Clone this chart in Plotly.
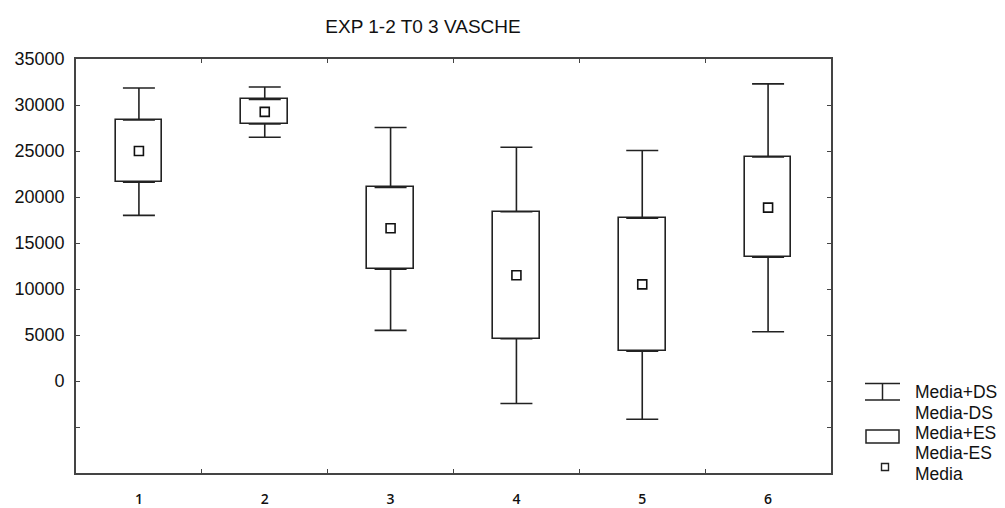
import plotly.graph_objects as go

# ---- data ----
categories = ["1", "2", "3", "4", "5", "6"]
mean = [25000, 29250, 16600, 11500, 10500, 18850]
se_low = [21600, 27950, 12150, 4600, 3250, 13450]     # Media-ES
se_high = [28380, 30600, 21050, 18400, 17700, 24350]  # Media+ES
sd_low = [18000, 26500, 5500, -2450, -4150, 5350]     # Media-DS
sd_high = [31850, 31950, 27550, 25400, 25050, 32300]  # Media+DS

title_text = "EXP 1-2 T0 3 VASCHE"
y_tickvals = [-10000, -5000, 0, 5000, 10000, 15000, 20000, 25000, 30000, 35000]
y_ticktext = ["", "", "0", "5000", "10000", "15000", "20000", "25000", "30000", "35000"]
legend_labels = ["Media+DS", "Media-DS", "Media+ES", "Media-ES", "Media"]

# ---- layout geometry (pixels) ----
W, H = 1005, 508
L, R, T, B = 76, 831, 59, 473
def px(x):
    return (x - L) / (R - L)
def py(y):
    return (B - y) / (B - T)

ink = "#111111"
line_col = "#222222"
axis_col = "#444444"
font = "Liberation Sans, Arial, sans-serif"

fig = go.Figure()

# upper whiskers (Media+ES -> Media+DS)
fig.add_trace(go.Scatter(
    x=categories, y=se_high, mode="markers",
    marker=dict(size=1, opacity=0),
    error_y=dict(type="data", symmetric=False,
                 array=[h - s for h, s in zip(sd_high, se_high)],
                 arrayminus=[0] * len(categories),
                 color=line_col, thickness=1.6, width=16),
    showlegend=False, hoverinfo="skip"))
# lower whiskers (Media-ES -> Media-DS)
fig.add_trace(go.Scatter(
    x=categories, y=se_low, mode="markers",
    marker=dict(size=1, opacity=0),
    error_y=dict(type="data", symmetric=False,
                 array=[0] * len(categories),
                 arrayminus=[s - l for s, l in zip(se_low, sd_low)],
                 color=line_col, thickness=1.6, width=16),
    showlegend=False, hoverinfo="skip"))

# boxes (Media +/- ES)
fig.add_trace(go.Bar(
    x=categories, base=se_low,
    y=[h - l for h, l in zip(se_high, se_low)],
    width=0.37,
    marker=dict(color="white", line=dict(color=line_col, width=1.6)),
    showlegend=False, hoverinfo="skip"))

# mean markers
fig.add_trace(go.Scatter(
    x=categories, y=mean, mode="markers",
    marker=dict(symbol="square-open", size=9, color=ink, line=dict(width=1.6)),
    showlegend=False))

shapes = []
# legend: I-beam
shapes.append(dict(type="line", xref="paper", yref="paper",
                   x0=px(865), x1=px(900), y0=py(383.5), y1=py(383.5),
                   line=dict(color=line_col, width=1.5)))
shapes.append(dict(type="line", xref="paper", yref="paper",
                   x0=px(865), x1=px(900), y0=py(400), y1=py(400),
                   line=dict(color=line_col, width=1.5)))
shapes.append(dict(type="line", xref="paper", yref="paper",
                   x0=px(882.5), x1=px(882.5), y0=py(383.5), y1=py(400),
                   line=dict(color=line_col, width=1.5)))
# legend: rectangle
shapes.append(dict(type="rect", xref="paper", yref="paper",
                   x0=px(866), x1=px(899), y0=py(430), y1=py(443),
                   line=dict(color=line_col, width=1.5), fillcolor="white"))
# legend: small square
shapes.append(dict(type="rect", xref="paper", yref="paper",
                   x0=px(881.5), x1=px(888.5), y0=py(463.5), y1=py(470.5),
                   line=dict(color=line_col, width=1.4), fillcolor="white"))

annotations = []
for lab, yy in zip(legend_labels, [391.5, 412.5, 432.5, 452.5, 474]):
    annotations.append(dict(text=lab, xref="paper", yref="paper",
                            x=px(913), y=py(yy), xanchor="left", yanchor="middle",
                            showarrow=False,
                            font=dict(family=font, size=17.5, color=ink)))

fig.update_layout(
    width=W, height=H,
    margin=dict(l=L, r=W - R, t=T, b=H - B, pad=0, autoexpand=False),
    paper_bgcolor="white", plot_bgcolor="white",
    title=dict(text=title_text, x=423 / W, xanchor="center", xref="container",
               y=1 - 26 / H, yanchor="middle",
               font=dict(family=font, size=19, color=ink)),
    showlegend=False,
    shapes=shapes, annotations=annotations,
    bargap=0,
    xaxis=dict(type="category", range=[-0.5, 5.5], automargin=False,
               showline=True, linecolor=axis_col, linewidth=1.6, mirror="allticks",
               ticks="inside", ticklen=4, tickcolor=axis_col, tickwidth=1.3,
               tickson="boundaries", showgrid=False, zeroline=False,
               ticklabelstandoff=12,
               tickfont=dict(family="Open Sans, DejaVu Sans, sans-serif", size=14,
                             color="#111111", weight=600)),
    yaxis=dict(range=[-10000, 35000], tickvals=y_tickvals, ticktext=y_ticktext,
               automargin=False,
               showline=True, linecolor=axis_col, linewidth=1.6, mirror="allticks",
               ticks="inside", ticklen=4, tickcolor=axis_col, tickwidth=1.3,
               showgrid=False, zeroline=False, ticklabelstandoff=6,
               tickfont=dict(family=font, size=18, color=ink)),
)

fig.write_html("out.html")
